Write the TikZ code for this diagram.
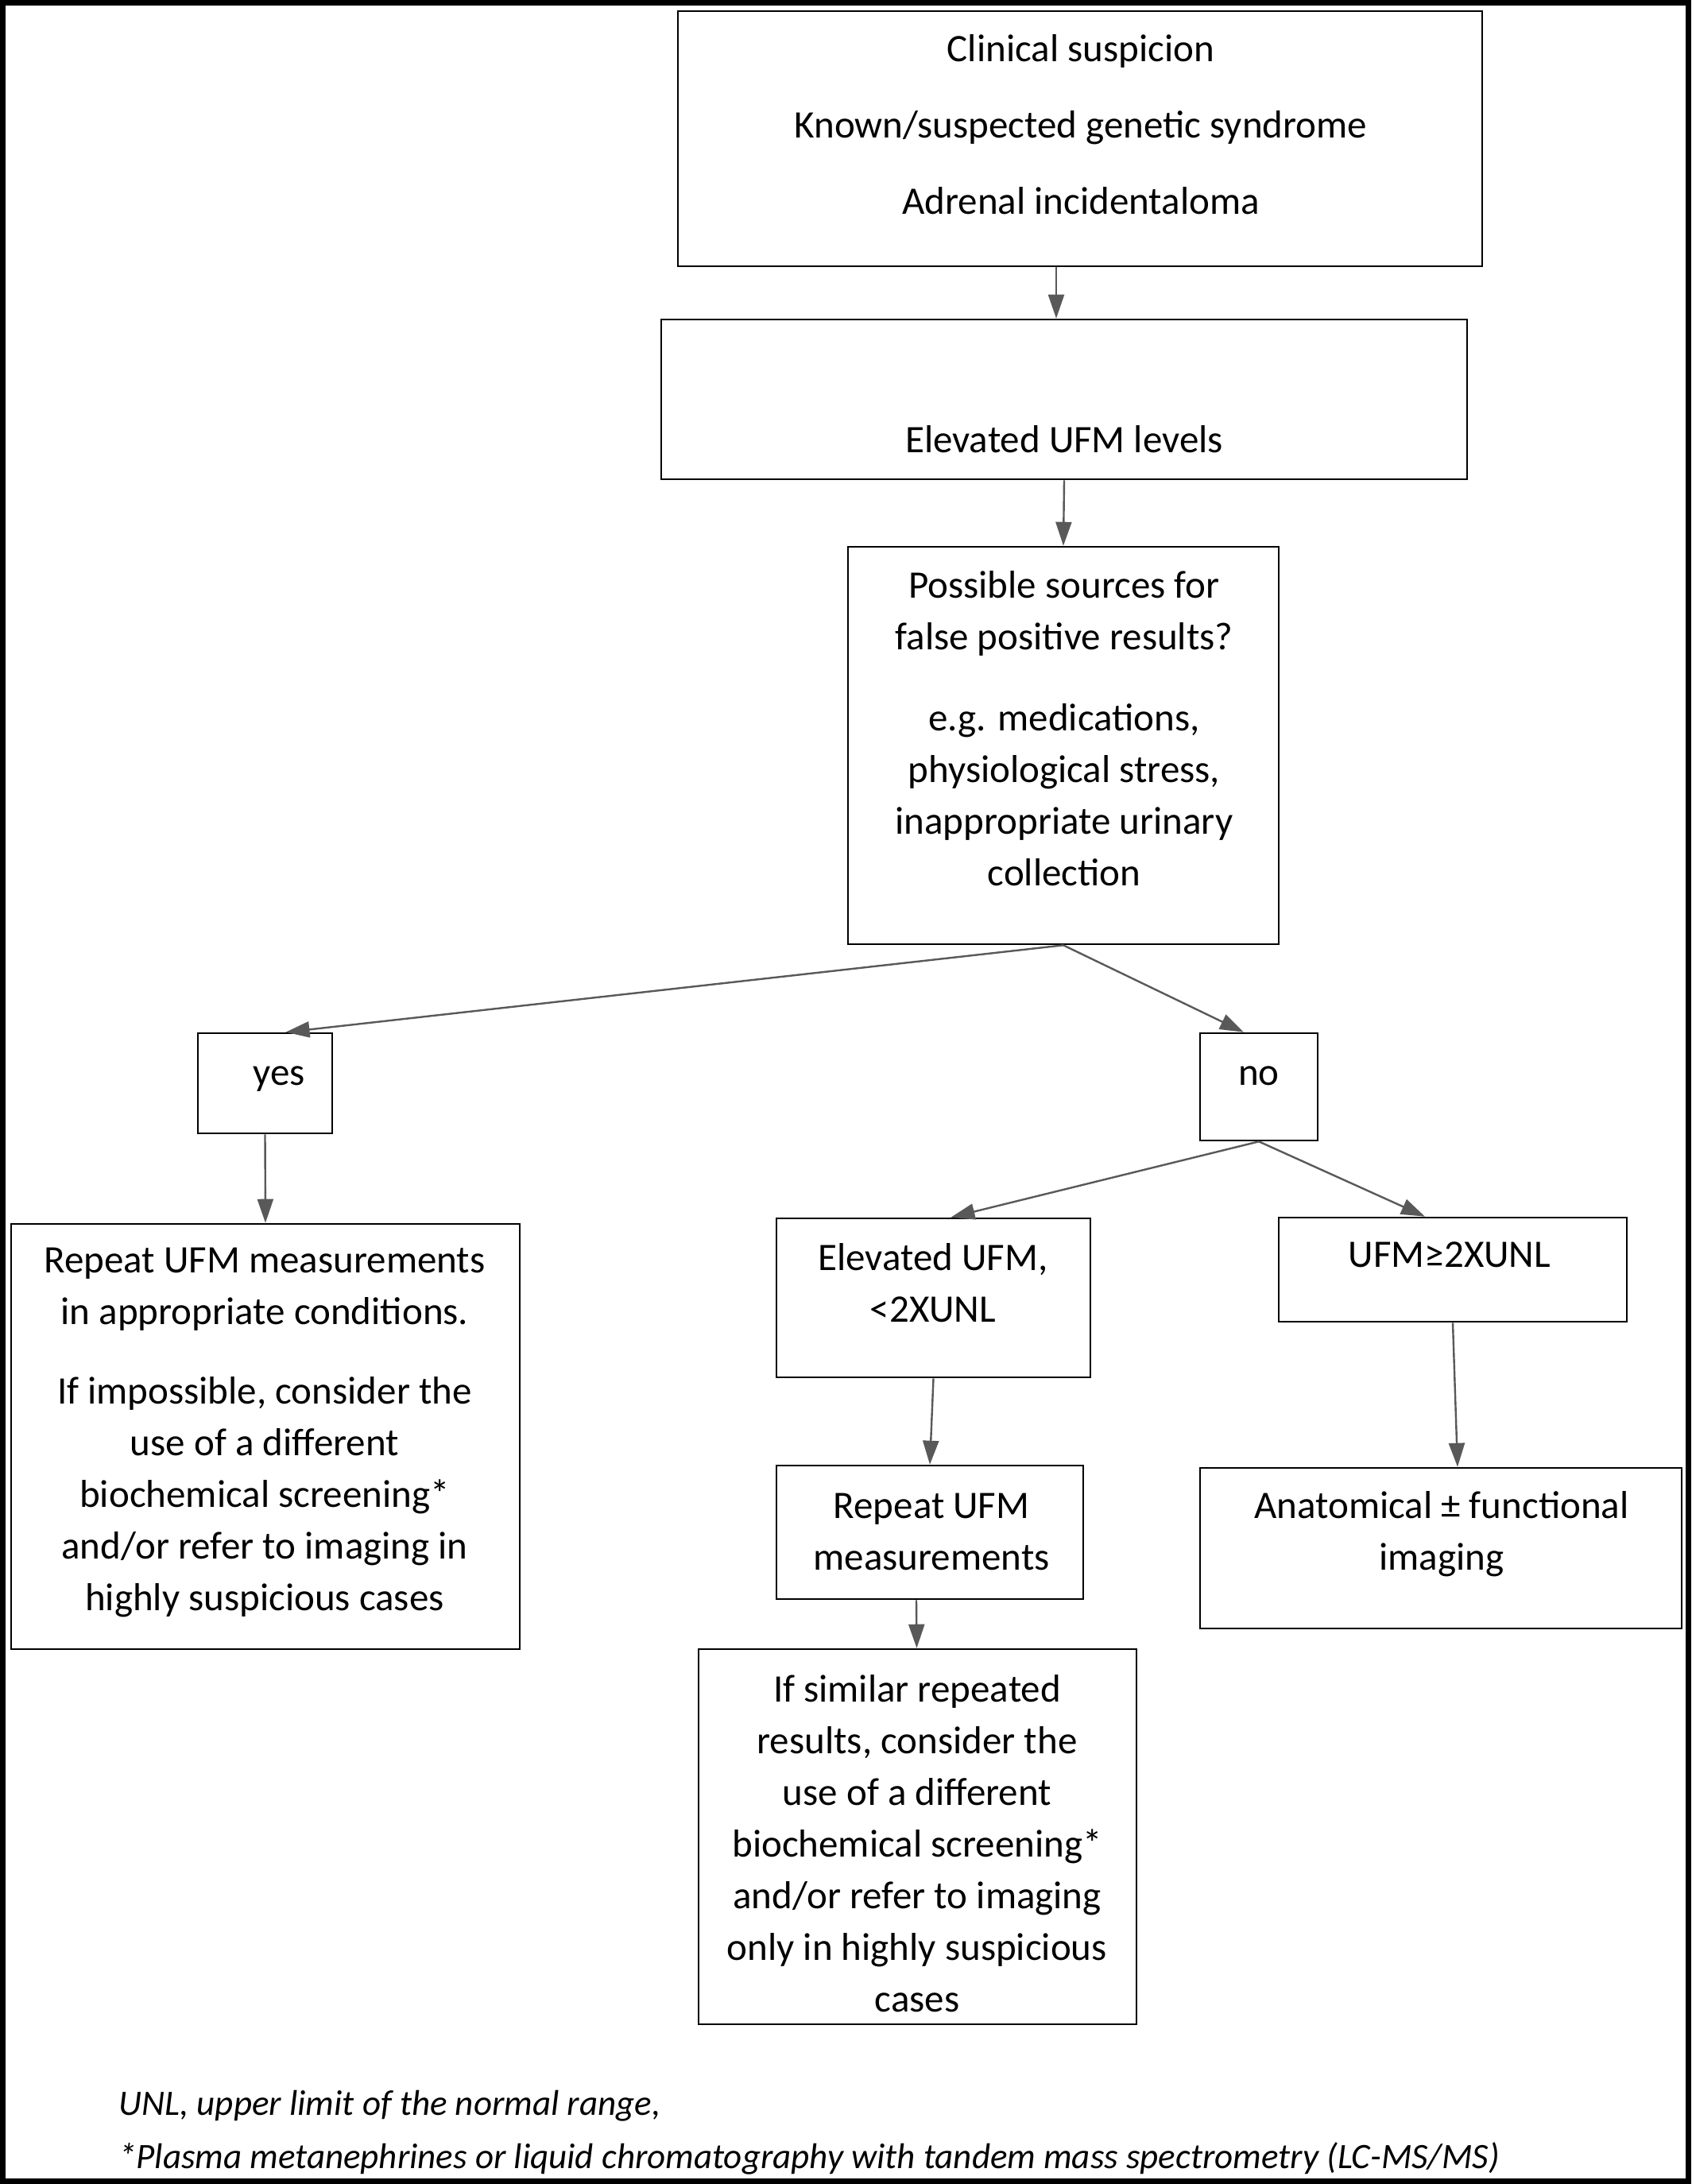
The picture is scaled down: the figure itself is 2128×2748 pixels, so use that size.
\documentclass[tikz,border=0pt]{standalone}
\usepackage{fontspec}
\setmainfont{Carlito}
\usetikzlibrary{arrows.meta}
\definecolor{arrowgray}{HTML}{595959}
\begin{document}
\begin{tikzpicture}[x=1pt,y=-1pt,
  box/.style={draw=black,line width=2.6pt,inner sep=0pt,fill=none},
  txt/.style={align=center,inner sep=0pt,font=\fontsize{49}{65}\selectfont},
  note/.style={anchor=west,inner sep=0pt,font=\fontsize{45}{60}\selectfont\itshape},
  arr/.style={draw=arrowgray,line width=2.4pt,-{Triangle[length=30pt,width=20pt]},fill=arrowgray}]
\useasboundingbox (0,0) rectangle (2128,2748);
\fill[white] (0,0) rectangle (2128,2748);
\draw[line width=7pt] (3.5,3.5) rectangle (2124.5,2744.5);

% boxes
\node[box,minimum width=1012pt,minimum height=321pt] (top) at (1359,174.5) {};
\node[box,minimum width=1014pt,minimum height=201pt] (ufm) at (1339,502.5) {};
\node[box,minimum width=542pt,minimum height=500pt] (src) at (1338,938) {};
\node[box,minimum width=169pt,minimum height=126pt] (yes) at (333.5,1363) {};
\node[box,minimum width=148pt,minimum height=135pt] (no) at (1584,1367.5) {};
\node[box,minimum width=640pt,minimum height=535pt] (repl) at (334,1807.5) {};
\node[box,minimum width=395pt,minimum height=200pt] (elev) at (1174.5,1633) {};
\node[box,minimum width=438pt,minimum height=131pt] (ufmtwo) at (1828,1597.5) {};
\node[box,minimum width=386pt,minimum height=168pt] (rep) at (1170,1928) {};
\node[box,minimum width=606pt,minimum height=202pt] (anat) at (1813,1948) {};
\node[box,minimum width=551pt,minimum height=472pt] (sim) at (1154.5,2311) {};

% texts
\node[txt] (ttop) at (1360,157) {Clinical suspicion\\[31pt]Known/suspected genetic syndrome\\[31pt]Adrenal incidentaloma};
\node[txt] (tufm) at (1339,553) {Elevated UFM levels};
\node[txt] (tsrc) at (1339,917) {Possible sources for\\false positive results?\\[37pt]e.g. medications,\\physiological stress,\\inappropriate urinary\\collection};
\node[txt] (tyes) at (351,1358) {yes};
\node[txt] (tno) at (1584,1354) {no};
\node[txt] (trepl) at (333,1802) {Repeat UFM measurements\\in appropriate conditions.\\[35pt]If impossible, consider the\\use of a different\\biochemical screening*\\and/or refer to imaging in\\highly suspicious cases};
\node[txt] (telev) at (1174,1614) {Elevated UFM,\\<2XUNL};
\node[txt] (tufmtwo) at (1824,1579) {UFM≥2XUNL};
\node[txt] (trep) at (1172,1927) {Repeat UFM\\measurements};
\node[txt] (tanat) at (1814,1930) {Anatomical ± functional\\imaging};
\node[txt] (tsim) at (1154,2320) {If similar repeated\\results, consider the\\use of a different\\biochemical screening*\\and/or refer to imaging\\only in highly suspicious\\cases};

\node[note] (n1) at (149,2650) {UNL, upper limit of the normal range,};
\node[note] (n2) at (149,2716) {*Plasma metanephrines or liquid chromatography with tandem mass spectrometry (LC-MS/MS)};

% arrows
\draw[arr] ([xshift=-30pt]top.south) -- ([xshift=-10pt]ufm.north);
\draw[arr] (ufm.south) -- (src.north);
\draw[arr] (src.south) -- ([xshift=26pt]yes.north);
\draw[arr] (src.south) -- ([xshift=-19pt]no.north);
\draw[arr] (yes.south) -- (repl.north);
\draw[arr] (no.south) -- ([xshift=22pt]elev.north);
\draw[arr] (no.south) -- ([xshift=-35pt]ufmtwo.north);
\draw[arr] (elev.south) -- (rep.north);
\draw[arr] (ufmtwo.south) -- ([xshift=21pt]anat.north);
\draw[arr] ([xshift=-17pt]rep.south) -- ([xshift=-1pt]sim.north);
\end{tikzpicture}
\end{document}
